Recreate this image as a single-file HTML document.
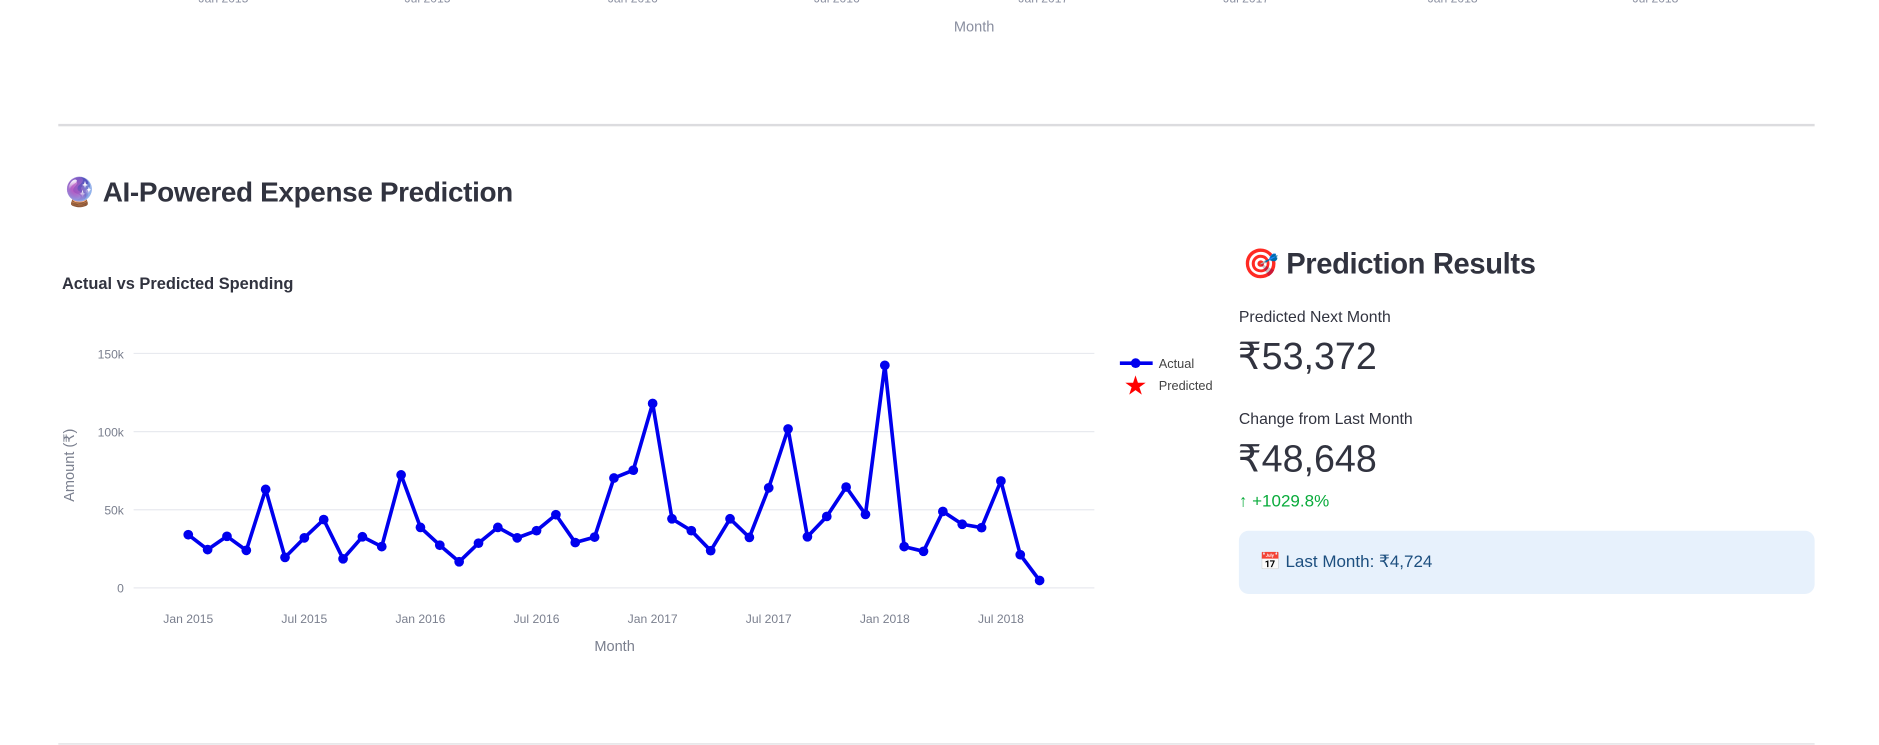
<!DOCTYPE html>
<html><head><meta charset="utf-8">
<style>
html,body{margin:0;padding:0;background:#fff;overflow:hidden;width:1879px;height:740px}
#root{position:absolute;left:0;top:0;width:1547px;height:610px;transform:scale(1.21461);transform-origin:0 0;font-family:"Liberation Sans",sans-serif;color:#31333F}
.a{position:absolute;white-space:nowrap}
</style></head><body>
<div id="root">
<svg class="a" style="left:0;top:0" width="1547" height="40">
<g font-size="10" fill="#8a8fa0" text-anchor="middle">
<text x="184" y="2">Jan 2015</text><text x="352" y="2">Jul 2015</text><text x="521" y="2">Jan 2016</text><text x="689" y="2">Jul 2016</text><text x="859" y="2">Jan 2017</text><text x="1026" y="2">Jul 2017</text><text x="1196" y="2">Jan 2018</text><text x="1363" y="2">Jul 2018</text>
<text x="802" y="26" font-size="12">Month</text></g></svg>
<div class="a" style="left:48px;top:102px;width:1446px;height:2px;background:#dcdcdf"></div>
<div class="a" style="left:51px;top:145px;font-size:23px;font-weight:600;letter-spacing:-0.3px">🔮 AI-Powered Expense Prediction</div>
<div class="a" style="left:51px;top:226px;font-size:13.5px;font-weight:bold">Actual vs Predicted Spending</div>
<svg id="chart" class="a" style="left:0;top:260px" width="1010" height="300"></svg>
<div class="a" style="left:1023px;top:203px;font-size:24px;font-weight:600;letter-spacing:-0.3px">🎯 Prediction Results</div>
<div class="a" style="left:1020px;top:253px;font-size:13px">Predicted Next Month</div>
<div class="a" style="left:1019px;top:276px;font-size:31px">₹53,372</div>
<div class="a" style="left:1020px;top:337px;font-size:13px">Change from Last Month</div>
<div class="a" style="left:1019px;top:360px;font-size:31px">₹48,648</div>
<div class="a" style="left:1020px;top:404px;font-size:14px;color:#09ab3b">↑ +1029.8%</div>
<div class="a" style="left:1020px;top:437px;width:474px;height:52px;background:#e7f1fc;border-radius:8px">
<div class="a" style="left:17px;top:17px;font-size:14px;color:#1d4f7f">📅 Last Month: ₹4,724</div></div>
<div class="a" style="left:48px;top:612px;width:1446px;height:1px;background:#dcdcdf"></div>
</div>
<script>
const months=["2015-01","2015-02","2015-03","2015-04","2015-05","2015-06","2015-07","2015-08","2015-09","2015-10","2015-11","2015-12","2016-01","2016-02","2016-03","2016-04","2016-05","2016-06","2016-07","2016-08","2016-09","2016-10","2016-11","2016-12","2017-01","2017-02","2017-03","2017-04","2017-05","2017-06","2017-07","2017-08","2017-09","2017-10","2017-11","2017-12","2018-01","2018-02","2018-03","2018-04","2018-05","2018-06","2018-07","2018-08","2018-09"];
const actual=[34,24.5,33,24,63,19.5,32,43.7,18.6,32.7,26.4,72.3,38.7,27.3,16.7,28.6,38.7,32,36.6,46.8,29,32.5,70.3,75.3,118,44.2,36.6,23.8,44.2,32.3,64,101.7,32.7,45.7,64.5,47,142.4,26.4,23.4,48.9,40.7,38.5,68.4,21.2,4.724];
const yTicks=[0,50,100,150];
const yTickLabels=["0","50k","100k","150k"];
const xTickIdx=[0,6,12,18,24,30,36,42];
const xTickLabels=["Jan 2015","Jul 2015","Jan 2016","Jul 2016","Jan 2017","Jul 2017","Jan 2018","Jul 2018"];
const svg=document.getElementById('chart');const NS="http://www.w3.org/2000/svg";
const OY=260;
const xs=i=>155+i*15.93;
const ys=v=>484-OY-v*(193/150);
function mk(t,a,txt){const e=document.createElementNS(NS,t);for(const k in a)e.setAttribute(k,a[k]);if(txt!==undefined)e.textContent=txt;svg.appendChild(e);return e;}
yTicks.forEach((v,i)=>{
const g=mk('line',{x1:110,x2:901,y1:ys(v),y2:ys(v),stroke:'#e8eaef','stroke-width':1});


const t=mk('text',{x:102,y:ys(v)+4,'text-anchor':'end','font-size':10,fill:'#7a7f8e'},yTickLabels[i]);


});
xTickIdx.forEach((m,i)=>{
const t=mk('text',{x:xs(m),y:253,'text-anchor':'middle','font-size':10,fill:'#7a7f8e'},xTickLabels[i]);


});
const xt=mk('text',{x:506,y:276,'text-anchor':'middle','font-size':12,fill:'#7a7f8e'},'Month');


const yt=mk('text',{x:0,y:0,'text-anchor':'middle','font-size':12,fill:'#7a7f8e',transform:'translate(61,123) rotate(-90)'},'Amount (₹)');


const ln=mk('polyline',{points:actual.map((v,i)=>xs(i)+','+ys(v)).join(' '),fill:'none',stroke:'#0000ee','stroke-width':3,'stroke-linejoin':'round'});


actual.forEach((v,i)=>{const c=mk('circle',{cx:xs(i),cy:ys(v),r:4,fill:'#0000ee'});

});
const l1=mk('line',{x1:922,x2:949,y1:39,y2:39,stroke:'#0000ee','stroke-width':3});


mk('circle',{cx:935,cy:39,r:4,fill:'#0000ee'});
const lt1=mk('text',{x:954,y:43,'font-size':10.5,fill:'#444'},'Actual');


const st=mk('text',{x:935,y:65,'text-anchor':'middle','font-size':22,fill:'#ff0000'},'★');


const lt2=mk('text',{x:954,y:61,'font-size':10.5,fill:'#444'},'Predicted');


</script>
</body></html>
